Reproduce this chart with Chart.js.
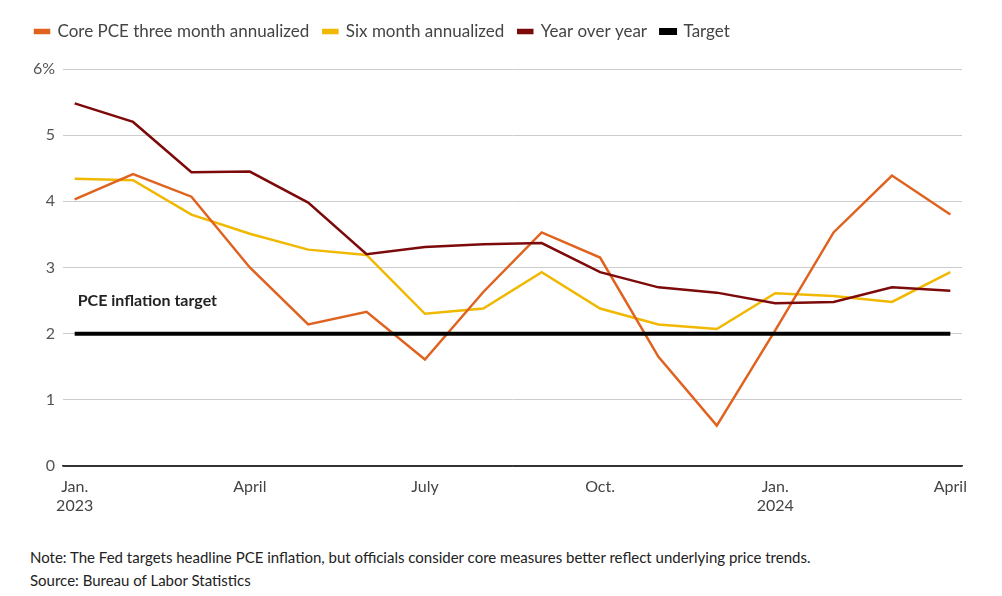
<!DOCTYPE html>
<html>
<head>
<meta charset="utf-8">
<script src="https://cdn.jsdelivr.net/npm/chart.js@4.4.1/dist/chart.umd.min.js"></script>
<style>
  body { margin: 0; background: #fff; font-family: Lato, sans-serif; }
  #wrap { position: relative; width: 1002px; height: 530px; }
  .note { position: absolute; left: 30px; font-size: 15px; color: #222; white-space: nowrap; }
</style>
</head>
<body>
<div id="wrap"><canvas id="grafico"></canvas></div>
<div class="note" style="top:548px">Note: The Fed targets headline PCE inflation, but officials consider core measures better reflect underlying price trends.</div>
<div class="note" style="top:571px">Source: Bureau of Labor Statistics</div>
<script>
const categories = ['Jan. 2023', 'Feb. 2023', 'Mar. 2023', 'Apr. 2023', 'May 2023', 'Jun. 2023', 'Jul. 2023', 'Aug. 2023',
                    'Sep. 2023', 'Oct. 2023', 'Nov. 2023', 'Dec. 2023', 'Jan. 2024', 'Feb. 2024', 'Mar. 2024', 'Apr. 2024'];
const corePce3m = [4.03, 4.41, 4.07, 3.0, 2.14, 2.33, 1.61, 2.63, 3.53, 3.15, 1.65, 0.61, 2.05, 3.53, 4.39, 3.8];
const sixMonth = [4.34, 4.32, 3.8, 3.51, 3.27, 3.19, 2.3, 2.38, 2.93, 2.38, 2.14, 2.07, 2.61, 2.57, 2.48, 2.93];
const yearOverYear = [5.48, 5.2, 4.44, 4.45, 3.98, 3.2, 3.31, 3.35, 3.37, 2.93, 2.7, 2.62, 2.46, 2.48, 2.7, 2.65];
const target = [2, 2, 2, 2, 2, 2, 2, 2, 2, 2, 2, 2, 2, 2, 2, 2];
const xTickPos = [0, 3, 6, 9, 12, 15];
const xTickLabels = [['Jan.', '2023'], 'April', 'July', 'Oct.', ['Jan.', '2024'], 'April'];
const yTicks = [0, 1, 2, 3, 4, 5, 6];

const pts = arr => arr.map((v, i) => ({ x: i, y: v }));

Chart.defaults.font.family = 'Lato';
Chart.defaults.font.size = 16;
Chart.defaults.color = '#444';

// pushes the plot down below the legend
const legendGap = {
    id: 'legendGap',
    beforeInit(chart) {
        const fit = chart.legend.fit;
        chart.legend.fit = function () {
            fit.call(this);
            this.height += 19;
        };
    }
};

const targetLabel = {
    id: 'targetLabel',
    afterDraw(chart) {
        const c = chart.ctx;
        const x = chart.scales.x.getPixelForValue(0) + 3;
        const y = chart.scales.y.getPixelForValue(2.5);
        c.save();
        c.font = 'bold 16px Lato';
        c.fillStyle = '#222';
        c.textBaseline = 'middle';
        c.fillText('PCE inflation target', x, y);
        c.restore();
    }
};

const ctx = document.getElementById('grafico').getContext('2d');
const myChart = new Chart(ctx, {
    type: 'line',
    data: {
        labels: categories,
        datasets: [{
            label: 'Core PCE three month annualized',
            data: pts(corePce3m),
            borderColor: '#e0621f',
            backgroundColor: '#e0621f',
            borderWidth: 2.5,
            order: 2
        }, {
            label: 'Six month annualized',
            data: pts(sixMonth),
            borderColor: '#f0b800',
            backgroundColor: '#f0b800',
            borderWidth: 2.5,
            order: 3
        }, {
            label: 'Year over year',
            data: pts(yearOverYear),
            borderColor: '#7d0a0a',
            backgroundColor: '#7d0a0a',
            borderWidth: 2.5,
            order: 1
        }, {
            label: 'Target',
            data: pts(target),
            borderColor: '#000',
            backgroundColor: '#000',
            borderWidth: 4,
            order: 0
        }]
    },
    options: {
        responsive: true,
        maintainAspectRatio: false,
        animation: false,
        layout: { padding: { left: 21, right: 40, top: 9, bottom: 0 } },
        elements: {
            point: { radius: 0, hoverRadius: 0 },
            line: { tension: 0, borderCapStyle: 'butt' }
        },
        plugins: {
            legend: {
                align: 'start',
                labels: {
                    boxWidth: 14,
                    boxHeight: 3,
                    padding: 14,
                    color: '#444',
                    font: { size: 17 },
                    sort: (a, b) => a.datasetIndex - b.datasetIndex
                }
            },
            tooltip: { enabled: false }
        },
        scales: {
            x: {
                type: 'linear',
                min: -0.2,
                max: 15.2,
                afterBuildTicks: s => { s.ticks = xTickPos.map(v => ({ value: v })); },
                afterFit: s => { s.height = 64; },
                ticks: {
                    autoSkip: false,
                    maxRotation: 0,
                    padding: 3,
                    color: '#444',
                    callback: (v) => xTickLabels[xTickPos.indexOf(v)]
                },
                grid: { display: false },
                border: { color: '#333', width: 1.5 }
            },
            y: {
                min: 0,
                max: 6,
                afterBuildTicks: s => { s.ticks = yTicks.map(v => ({ value: v })); },
                afterFit: s => { s.width = 42; },
                ticks: {
                    padding: 8,
                    color: '#555',
                    callback: v => v === 6 ? '6%' : v
                },
                grid: {
                    color: c => c.tick && c.tick.value === 0 ? '#333' : '#cccccc',
                    drawTicks: false
                },
                border: { display: false }
            }
        }
    },
    plugins: [legendGap, targetLabel]
});
</script>
</body>
</html>
